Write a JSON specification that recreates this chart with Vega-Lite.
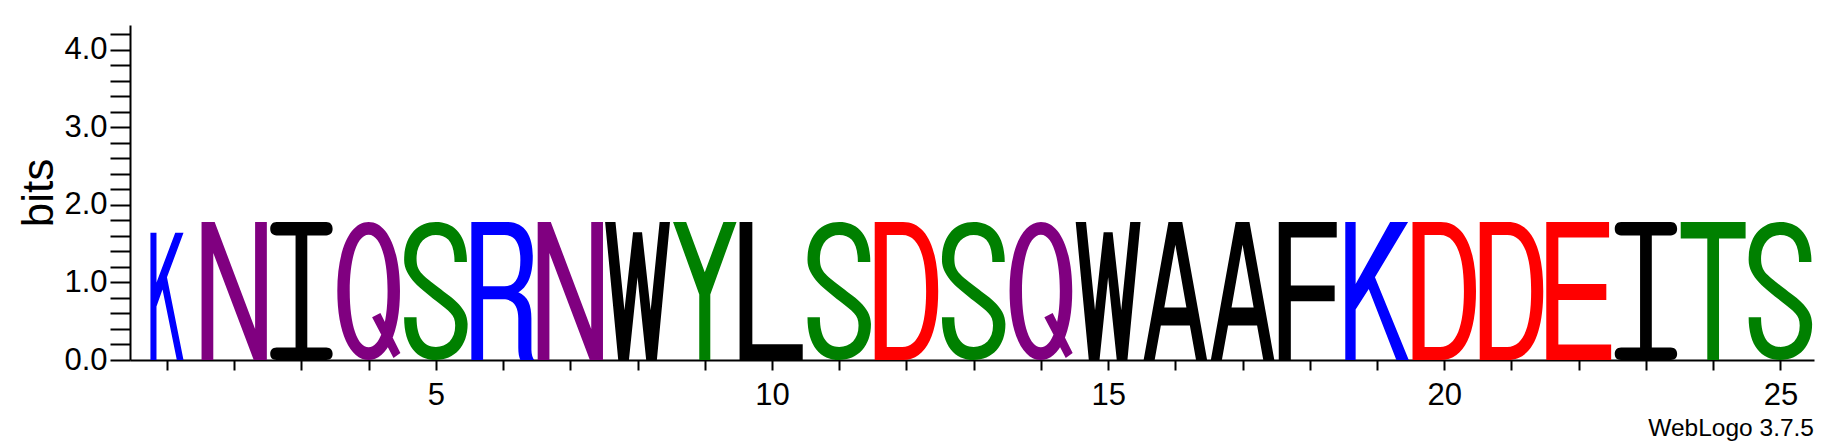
{
  "$schema": "https://vega.github.io/schema/vega-lite/v6.json",
  "width": 1684,
  "height": 335,
  "autosize": {"type": "none"},
  "padding": {"left": 130, "top": 25, "right": 26, "bottom": 84},
  "config": {"view": {"stroke": null}, "font": "Liberation Sans", "axisY": {"titleFontSize": 44, "titleFontWeight": "normal"}},
  "title": {"text": "WebLogo 3.7.5", "orient": "bottom", "anchor": "end", "frame": "group", "font": "Liberation Sans", "fontSize": 24.5, "fontWeight": "normal", "color": "black", "offset": 7},
  "data": {
    "values": [
      {"position": 1, "letter": "K", "bits": 1.64, "weight": 0.55},
      {"position": 2, "letter": "N", "bits": 1.78, "weight": 1},
      {"position": 3, "letter": "I", "bits": 1.78, "weight": 1},
      {"position": 4, "letter": "Q", "bits": 1.78, "weight": 1},
      {"position": 5, "letter": "S", "bits": 1.78, "weight": 1},
      {"position": 6, "letter": "R", "bits": 1.78, "weight": 1},
      {"position": 7, "letter": "N", "bits": 1.78, "weight": 1},
      {"position": 8, "letter": "W", "bits": 1.78, "weight": 1},
      {"position": 9, "letter": "Y", "bits": 1.78, "weight": 1},
      {"position": 10, "letter": "L", "bits": 1.78, "weight": 1},
      {"position": 11, "letter": "S", "bits": 1.78, "weight": 1},
      {"position": 12, "letter": "D", "bits": 1.78, "weight": 1},
      {"position": 13, "letter": "S", "bits": 1.78, "weight": 1},
      {"position": 14, "letter": "Q", "bits": 1.78, "weight": 1},
      {"position": 15, "letter": "W", "bits": 1.78, "weight": 1},
      {"position": 16, "letter": "A", "bits": 1.78, "weight": 1},
      {"position": 17, "letter": "A", "bits": 1.78, "weight": 1},
      {"position": 18, "letter": "F", "bits": 1.78, "weight": 1},
      {"position": 19, "letter": "K", "bits": 1.78, "weight": 1},
      {"position": 20, "letter": "D", "bits": 1.78, "weight": 1},
      {"position": 21, "letter": "D", "bits": 1.78, "weight": 1},
      {"position": 22, "letter": "E", "bits": 1.78, "weight": 1},
      {"position": 23, "letter": "I", "bits": 1.78, "weight": 1},
      {"position": 24, "letter": "T", "bits": 1.78, "weight": 1},
      {"position": 25, "letter": "S", "bits": 1.78, "weight": 1}
    ]
  },
  "encoding": {
    "x": {
      "field": "position", "type": "quantitative",
      "scale": {"domain": [0.45, 25.5], "nice": false, "zero": false},
      "axis": {
        "title": null,
        "values": [1,2,3,4,5,6,7,8,9,10,11,12,13,14,15,16,17,18,19,20,21,22,23,24,25],
        "labelExpr": "datum.value % 5 === 0 ? datum.label : ''",
        "labelFontSize": 31, "labelFont": "Liberation Sans", "labelColor": "black",
        "labelPadding": 10, "labelOverlap": false, "labelFlush": false,
        "tickSize": 10, "tickWidth": 2, "tickColor": "black",
        "domainWidth": 2, "domainColor": "black", "grid": false,
        "encode": {"ticks": {"y2": {"condition": {"test": "datum.value % 5 === 0", "value": 10}, "value": 6}}}
      }
    },
    "y": {
      "datum": 0, "type": "quantitative",
      "scale": {"domain": [0, 4.32], "nice": false, "zero": true},
      "axis": {
        "title": "bits", "titleFont": "Liberation Sans", "titleFontSize": 44, "titleFontWeight": "normal", "titleColor": "black", "titlePadding": 2,
        "values": [0,0.2,0.4,0.6,0.8,1,1.2,1.4,1.6,1.8,2,2.2,2.4,2.6,2.8,3,3.2,3.4,3.6,3.8,4,4.2],
        "labelExpr": "abs(datum.value - round(datum.value)) < 0.01 ? format(datum.value, '.1f') : ''",
        "labelFontSize": 31, "labelFont": "Liberation Sans", "labelColor": "black",
        "labelPadding": 3, "labelOverlap": false, "labelFlush": false,
        "tickSize": 20, "tickWidth": 2, "tickColor": "black",
        "domainWidth": 2, "domainColor": "black", "grid": false,
        "encode": {"ticks": {"x2": {"condition": {"test": "abs(datum.value - round(datum.value)) < 0.01", "value": -20}, "value": -9}}}
      }
    },
    "size": {
      "field": "bits", "type": "quantitative",
      "scale": {"type": "pow", "exponent": 2, "domain": [0, 4.32], "range": [0, 112225]},
      "legend": null
    },
    "color": {
      "field": "letter", "type": "nominal",
      "scale": {
        "domain": ["K","R","N","Q","S","T","Y","D","E","I","W","L","A","F"],
        "range": ["#0000ff","#0000ff","#800080","#800080","#008000","#008000","#008000","#ff0000","#ff0000","#000000","#000000","#000000","#000000","#000000"]
      },
      "legend": null
    }
  },
  "layer": [
    {
      "transform": [{"filter": "datum.weight >= 1"}],
      "mark": {"type": "point", "filled": true, "opacity": 1, "strokeWidth": 0},
      "encoding": {
        "shape": {
          "field": "letter", "type": "nominal", "legend": null,
          "scale": {
            "domain": ["K","N","I","Q","S","R","W","Y","L","D","A","F","E","T"],
            "range": [
              "M-0.46 0L-0.46 -2L-0.31 -2L-0.31 -1.1L0.19 -2L0.45 -2L-0.03 -1.2L0.46 0L0.28 0L-0.12 -1.03L-0.31 -0.73L-0.31 0Z",
              "M-0.473 0L-0.473 -2L-0.283 -2L0.303 -0.45L0.303 -2L0.473 -2L0.473 0L0.283 0L-0.303 -1.55L-0.303 0Z",
              "M-0.36 -2L0.36 -2C0.42 -2 0.452 -1.96 0.452 -1.9C0.452 -1.84 0.42 -1.805 0.36 -1.805L0.085 -1.805L0.085 -0.18L0.36 -0.18C0.42 -0.18 0.452 -0.14 0.452 -0.09C0.452 -0.03 0.42 0 0.36 0L-0.36 0C-0.42 0 -0.452 -0.03 -0.452 -0.09C-0.452 -0.14 -0.42 -0.18 -0.36 -0.18L-0.085 -0.18L-0.085 -1.805L-0.36 -1.805C-0.42 -1.805 -0.452 -1.84 -0.452 -1.9C-0.452 -1.96 -0.42 -2 -0.36 -2Z",
              "M0 -2C0.27 -2 0.454 -1.6 0.454 -1C0.454 -0.4 0.27 0 0 0C-0.27 0 -0.454 -0.4 -0.454 -1C-0.454 -1.6 -0.27 -2 0 -2ZM0 -1.815C-0.16 -1.815 -0.274 -1.5 -0.274 -1C-0.274 -0.5 -0.16 -0.185 0 -0.185C0.16 -0.185 0.274 -0.5 0.274 -1C0.274 -1.5 0.16 -1.815 0 -1.815ZM0.05 -0.62L0.17 -0.68L0.46 -0.1L0.36 -0.03Z",
              "M0.45 -1.42C0.45 -1.82 0.26 -2 0 -2C-0.27 -2 -0.46 -1.8 -0.46 -1.45C-0.46 -1.2 -0.2 -1.02 0 -0.86C0.2 -0.7 0.28 -0.66 0.28 -0.5C0.28 -0.3 0.16 -0.19 0 -0.19C-0.17 -0.19 -0.28 -0.32 -0.28 -0.62L-0.46 -0.62C-0.46 -0.2 -0.27 0 0 0C0.27 0 0.46 -0.2 0.46 -0.52C0.46 -0.78 0.2 -0.92 0 -1.08C-0.2 -1.24 -0.28 -1.28 -0.28 -1.47C-0.28 -1.68 -0.16 -1.81 0 -1.81C0.17 -1.81 0.27 -1.7 0.27 -1.42Z",
              "M-0.46 0L-0.46 -2L0.05 -2C0.32 -2 0.43 -1.8 0.43 -1.5C0.43 -1.2 0.34 -1.05 0.22 -0.98C0.36 -0.92 0.41 -0.8 0.41 -0.6L0.41 -0.15C0.41 -0.08 0.43 -0.03 0.45 0L0.25 0C0.23 -0.04 0.22 -0.1 0.22 -0.18L0.22 -0.6C0.22 -0.78 0.15 -0.88 0 -0.88L-0.29 -0.88L-0.29 0ZM-0.29 -1.81L-0.29 -1.07L0.02 -1.07C0.18 -1.07 0.25 -1.2 0.25 -1.45C0.25 -1.7 0.17 -1.81 0.02 -1.81Z",
              "M-0.47 -2L-0.32 -2L-0.19 -0.72L-0.065 -1.85L0.065 -1.85L0.19 -0.72L0.32 -2L0.47 -2L0.28 0L0.125 0L0 -1.2L-0.125 0L-0.28 0Z",
              "M-0.46 -2L-0.27 -2L0 -1.27L0.27 -2L0.46 -2L0.08 -0.95L0.08 0L-0.08 0L-0.08 -0.95Z",
              "M-0.47 0L-0.47 -2L-0.285 -2L-0.285 -0.23L0.445 -0.23L0.445 0Z",
              "M-0.46 0L-0.46 -2L-0.05 -2C0.3 -2 0.46 -1.6 0.46 -1C0.46 -0.4 0.3 0 -0.05 0ZM-0.285 -0.19L-0.06 -0.19C0.18 -0.19 0.285 -0.5 0.285 -1C0.285 -1.5 0.18 -1.81 -0.06 -1.81L-0.285 -1.81Z",
              "M-0.46 0L-0.1 -2L0.1 -2L0.46 0L0.3 0L0.21 -0.5L-0.21 -0.5L-0.3 0ZM0 -1.67L-0.16 -0.76L0.16 -0.76Z",
              "M-0.45 0L-0.45 -2L0.39 -2L0.39 -1.775L-0.275 -1.775L-0.275 -1.08L0.36 -1.08L0.36 -0.85L-0.275 -0.85L-0.275 0Z",
              "M-0.47 0L-0.47 -2L0.44 -2L0.44 -1.775L-0.295 -1.775L-0.295 -1.1L0.4 -1.1L0.4 -0.87L-0.295 -0.87L-0.295 -0.225L0.47 -0.225L0.47 0Z",
              "M-0.47 -2L0.47 -2L0.47 -1.76L0.085 -1.76L0.085 0L-0.085 0L-0.085 -1.76L-0.47 -1.76Z"
            ]
          }
        }
      }
    },
    {
      "transform": [{"filter": "datum.weight < 1"}],
      "mark": {"type": "point", "filled": true, "opacity": 1, "strokeWidth": 0},
      "encoding": {
        "shape": {
          "field": "letter", "type": "nominal", "legend": null,
          "scale": {
            "domain": ["K"],
            "range": ["M-0.26 0L-0.26 -2L-0.165 -2L-0.165 -1.22L0.13 -2L0.26 -2L0 -1.3L0.26 0L0.155 0L-0.07 -1.11L-0.165 -0.84L-0.165 0Z"]
          }
        }
      }
    }
  ],
  "resolve": {"scale": {"shape": "independent"}}
}
